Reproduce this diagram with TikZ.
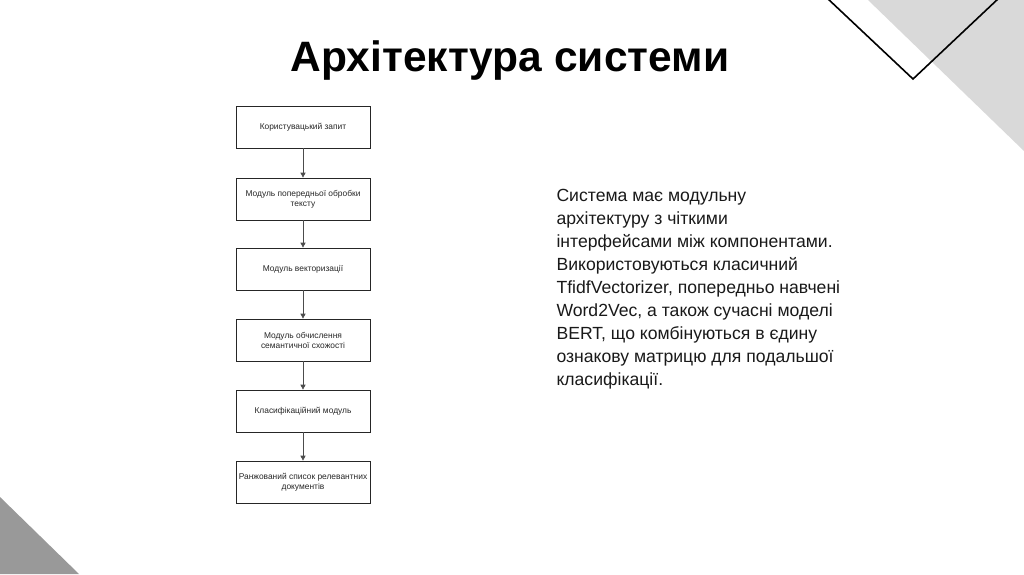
\documentclass[tikz,border=0pt]{standalone}
\usepackage{fontspec}
\setmainfont{Liberation Sans}
\usetikzlibrary{arrows.meta,positioning}

\begin{document}
\begin{tikzpicture}[
        x=1pt,
        y=-1pt,
        >={Triangle[length=5pt,width=5pt]},
        every node/.style={font=\fontsize{8.4}{10}\selectfont, align=center, text=black!85},
        stage/.style={draw=black!85, line width=0.7pt, minimum width=134pt, minimum height=42pt, inner sep=1pt},
        flow/.style={->, draw=black!70, line width=0.7pt}
    ]
        \useasboundingbox (0,0) rectangle (1024,574);
        % corner decorations
        \fill[black!15] (868,0) -- (1024,0) -- (1024,151) -- cycle;
        \fill[black!40] (0,497) -- (0,574) -- (79,574) -- cycle;
        \draw[line width=1.6pt, line join=miter] (827,-2) -- (913,79) -- (999,-2);

        \node[font=\fontsize{42.5}{48}\selectfont\bfseries, text=black] (title) at (510,61) {Архітектура системи};

        \node[stage] (query) at (303,127) {Користувацький запит};
        \node[stage] (prep) at (303,199) {Модуль попередньої обробки\\тексту};
        \node[stage] (vect) at (303,269) {Модуль векторизації};
        \node[stage] (sim) at (303,340) {Модуль обчислення\\семантичної схожості};
        \node[stage] (cls) at (303,411) {Класифікаційний модуль};
        \node[stage] (rank) at (303,482) {Ранжований список релевантних\\документів};
        \foreach \a/\b in {query/prep,prep/vect,vect/sim,sim/cls,cls/rank} {
            \draw[flow] (\a) -- (\b);
        }

        \node[anchor=north west, align=left, text=black!90, font=\fontsize{17.6}{23}\selectfont] (desc) at (553,186)
            {Система має модульну\\архітектуру з чіткими\\інтерфейсами між компонентами.\\Використовуються класичний\\TfidfVectorizer, попередньо навчені\\Word2Vec, а також сучасні моделі\\BERT, що комбінуються в єдину\\ознакову матрицю для подальшої\\класифікації.};
    \end{tikzpicture}
\end{document}
